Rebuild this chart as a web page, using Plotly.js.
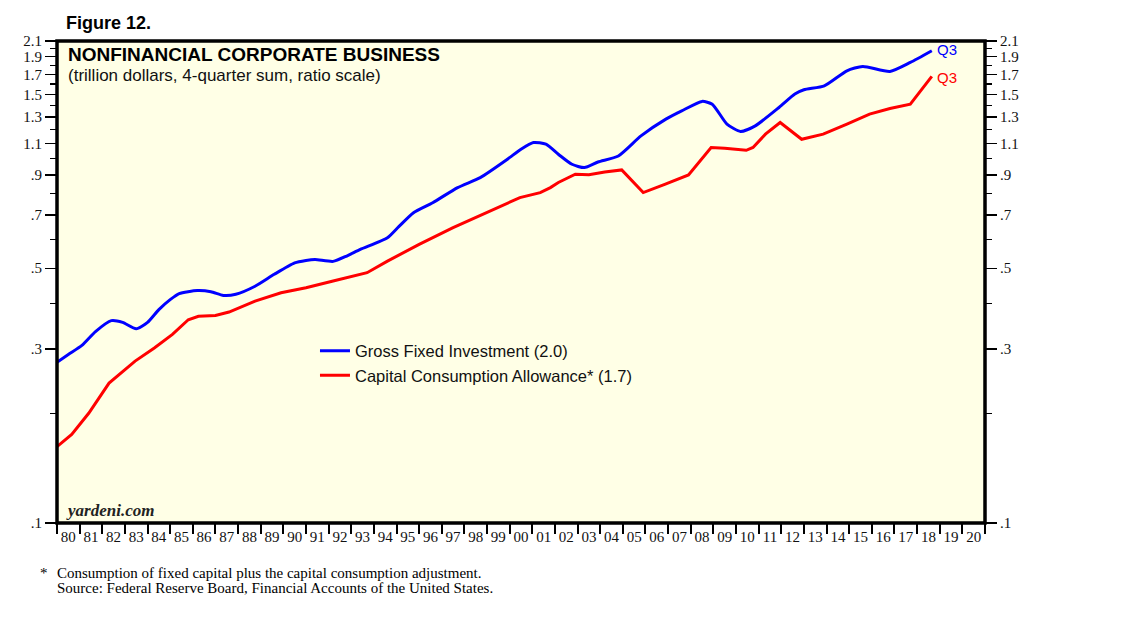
<!DOCTYPE html>
<html>
<head>
<meta charset="utf-8">
<script src="https://cdn.plot.ly/plotly-3.0.1.min.js"></script>
<style>html,body{margin:0;padding:0;background:#fff;}#chart{width:1138px;height:621px;}</style>
</head>
<body>
<div id="chart"></div>
<script>
// Gross Fixed Investment (trillion $, 4-quarter sum)
const gfiYears = [1980.0,1980.5,1981.1,1981.7,1982.4,1982.9,1983.5,1984.0,1984.5,1985.0,1985.4,1986.2,1986.8,1987.35,1987.9,1988.75,1989.6,1990.5,1991.0,1991.4,1992.2,1992.8,1993.4,1994.6,1995.1,1995.75,1996.6,1997.7,1998.7,1999.9,2000.5,2001.05,2001.6,2002.15,2002.75,2003.3,2003.9,2004.8,2005.8,2006.9,2007.6,2008.5,2008.95,2009.6,2010.2,2010.85,2011.9,2012.6,2013.0,2013.9,2014.9,2015.6,2016.8,2017.7,2018.65];
const gfiValues = [0.276,0.290,0.307,0.335,0.359,0.355,0.341,0.355,0.385,0.410,0.426,0.434,0.431,0.421,0.424,0.446,0.481,0.517,0.525,0.528,0.522,0.540,0.563,0.606,0.650,0.710,0.756,0.832,0.886,0.995,1.06,1.106,1.094,1.027,0.964,0.944,0.978,1.016,1.153,1.282,1.351,1.434,1.409,1.242,1.186,1.229,1.380,1.502,1.543,1.582,1.740,1.789,1.733,1.834,1.975];

// Capital Consumption Allowance
const ccaYears = [1980.0,1980.65,1981.4,1982.3,1983.45,1984.3,1985.1,1985.8,1986.25,1987.0,1987.6,1988.75,1989.9,1991.0,1992.2,1993.7,1994.6,1996.0,1997.5,1999.0,2000.45,2001.35,2001.8,2002.15,2002.9,2003.5,2004.2,2004.95,2005.9,2006.85,2007.9,2008.9,2009.5,2010.45,2010.75,2011.3,2011.95,2012.9,2013.85,2014.9,2015.9,2016.8,2017.7,2018.65];
const ccaValues = [0.162,0.175,0.200,0.242,0.278,0.302,0.329,0.361,0.369,0.371,0.379,0.406,0.428,0.442,0.461,0.486,0.523,0.581,0.646,0.710,0.781,0.806,0.832,0.859,0.905,0.902,0.918,0.930,0.806,0.849,0.901,1.072,1.067,1.053,1.072,1.166,1.255,1.129,1.166,1.242,1.323,1.371,1.409,1.680];

// Axis ticks
const yLabelVals = [0.1,0.3,0.5,0.7,0.9,1.1,1.3,1.5,1.7,1.9,2.1];
const yLabelText = ['.1','.3','.5','.7','.9','1.1','1.3','1.5','1.7','1.9','2.1'];
const yMinorVals = [0.2,0.4,0.6,0.8,1.0,1.2,1.4,1.6,1.8,2.0];
const yearStart = 1980, yearEnd = 2021;
const yearBounds = [];
const yearMids = [];
const yearLabels = [];
for (let y = yearStart; y <= yearEnd; y++) {
  yearBounds.push(y);
  if (y < yearEnd) { yearMids.push(y + 0.5); yearLabels.push(String(y % 100).padStart(2, '0')); }
}

const serif = 'Liberation Serif, Times New Roman, serif';
const sans = 'Liberation Sans, Arial, sans-serif';

const traces = [
  {x: gfiYears, y: gfiValues, type: 'scatter', mode: 'lines', name: 'Gross Fixed Investment (2.0)',
   line: {color: '#0000ff', width: 3, shape: 'spline', smoothing: 0.6}, xaxis: 'x', yaxis: 'y'},
  {x: ccaYears, y: ccaValues, type: 'scatter', mode: 'lines', name: 'Capital Consumption Allowance* (1.7)',
   line: {color: '#ff0000', width: 3}, xaxis: 'x', yaxis: 'y2'}
];

const yCommon = {
  type: 'log', range: [Math.log10(0.1), Math.log10(2.1)], fixedrange: true,
  tickmode: 'array', tickvals: yLabelVals, ticktext: yLabelText,
  ticks: 'outside', ticklen: 11, tickwidth: 1.3, tickcolor: '#000',
  minor: {tickmode: 'array', tickvals: yMinorVals, ticks: 'outside', ticklen: 6, tickwidth: 1.3, tickcolor: '#000', showgrid: false},
  showgrid: false, zeroline: false, showline: false,
  tickfont: {family: serif, size: 15, color: '#111'}
};

const layout = {
  width: 1138, height: 621,
  margin: {l: 57, r: 153, t: 41, b: 98},
  paper_bgcolor: '#ffffff', plot_bgcolor: 'rgb(255,255,230)',
  showlegend: true,
  legend: {x: 0.278, y: 0.393, xanchor: 'left', yanchor: 'top', bgcolor: 'rgba(0,0,0,0)',
           font: {family: sans, size: 16.5, color: '#111'}, tracegroupgap: 0, itemwidth: 30},
  xaxis: {
    range: [yearStart, yearEnd], fixedrange: true,
    tickmode: 'array', tickvals: yearMids, ticktext: yearLabels,
    ticks: 'outside', ticklen: 0, tickcolor: 'rgba(0,0,0,0)',
    minor: {tickmode: 'array', tickvals: yearBounds, ticks: 'outside', ticklen: 10, tickwidth: 2, tickcolor: '#000', showgrid: false},
    showgrid: false, zeroline: false, showline: false,
    tickfont: {family: serif, size: 15, color: '#111'}
  },
  yaxis: Object.assign({}, yCommon, {side: 'left'}),
  yaxis2: Object.assign({}, yCommon, {side: 'right', overlaying: 'y'}),
  shapes: [
    {type: 'rect', xref: 'paper', yref: 'paper', x0: 0, x1: 1, y0: 0, y1: 1,
     line: {color: '#000', width: 3.5}, fillcolor: 'rgba(0,0,0,0)'}
  ],
  annotations: [
    {xref: 'paper', yref: 'paper', x: 0.008, y: 1.012, xanchor: 'left', yanchor: 'bottom', showarrow: false,
     text: '<b>Figure 12.</b>', font: {family: sans, size: 18, color: '#000'}},
    {xref: 'paper', yref: 'paper', x: 0.01, y: 0.998, xanchor: 'left', yanchor: 'top', showarrow: false,
     text: '<b>NONFINANCIAL CORPORATE BUSINESS</b>', font: {family: sans, size: 19, color: '#000'}},
    {xref: 'paper', yref: 'paper', x: 0.01, y: 0.953, xanchor: 'left', yanchor: 'top', showarrow: false,
     text: '(trillion dollars, 4-quarter sum, ratio scale)', font: {family: sans, size: 17, color: '#111'}},
    {xref: 'x', yref: 'y', x: gfiYears[gfiYears.length - 1] + 0.15, y: Math.log10(gfiValues[gfiValues.length - 1]) + 0.004,
     xanchor: 'left', yanchor: 'middle', showarrow: false, text: 'Q3', font: {family: sans, size: 15, color: '#0000ff'}},
    {xref: 'x', yref: 'y', x: ccaYears[ccaYears.length - 1] + 0.15, y: Math.log10(ccaValues[ccaValues.length - 1]) - 0.003,
     xanchor: 'left', yanchor: 'middle', showarrow: false, text: 'Q3', font: {family: sans, size: 15, color: '#ff0000'}},
    {xref: 'paper', yref: 'paper', x: 0.008, y: 0.002, xanchor: 'left', yanchor: 'bottom', showarrow: false,
     text: '<b><i>yardeni.com</i></b>', font: {family: serif, size: 17, color: '#222'}},
    {xref: 'paper', yref: 'paper', x: -0.021, y: -0.083, xanchor: 'left', yanchor: 'top', showarrow: false,
     text: '*', font: {family: serif, size: 15, color: '#000'}},
    {xref: 'paper', yref: 'paper', x: -0.002, y: -0.083, xanchor: 'left', yanchor: 'top', showarrow: false, align: 'left',
     text: 'Consumption of fixed capital plus the capital consumption adjustment.',
     font: {family: serif, size: 15, color: '#000'}},
    {xref: 'paper', yref: 'paper', x: -0.002, y: -0.114, xanchor: 'left', yanchor: 'top', showarrow: false, align: 'left',
     text: 'Source: Federal Reserve Board, Financial Accounts of the United States.',
     font: {family: serif, size: 15, color: '#000'}}
  ]
};

Plotly.newPlot('chart', traces, layout, {displayModeBar: false, staticPlot: true});
</script>
</body>
</html>
